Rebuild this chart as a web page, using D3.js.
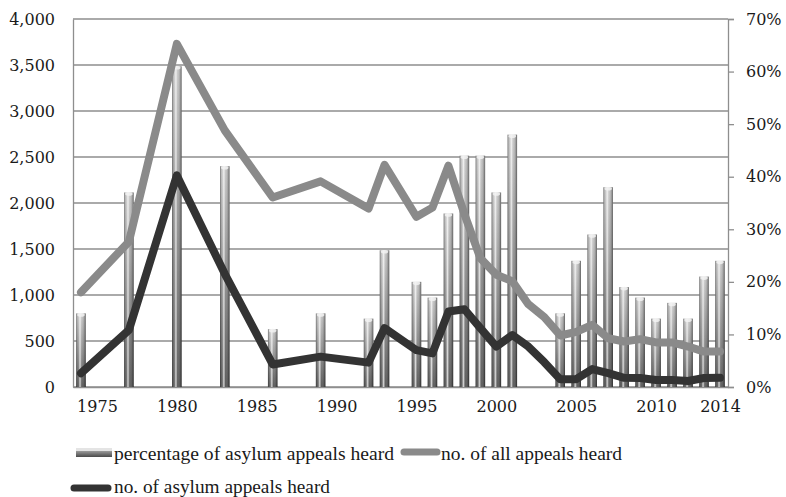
<!DOCTYPE html>
<html>
<head>
<meta charset="utf-8">
<script src="https://cdn.jsdelivr.net/npm/d3@7"></script>
<style>
  html, body { margin: 0; padding: 0; background: #fff; }
  svg { display: block; }
</style>
</head>
<body>
<svg id="chart" width="786" height="497"></svg>
<script>
// ---- data ----
const years = [1974,1977,1980,1983,1986,1989,1992,1993,1995,1996,1997,1998,1999,2000,2001,2002,2003,2004,2005,2006,2007,2008,2009,2010,2011,2012,2013,2014];
const pctAsylumHeard = [14,37,61,42,11,14,13,26,20,17,33,44,44,37,48,null,null,14,24,29,38,19,17,13,16,13,21,24];
const allAppealsHeard = [1030,1580,3730,2790,2060,2235,1940,2415,1850,1950,2405,1880,1400,1220,1150,900,760,560,600,675,530,495,520,485,485,440,385,385];
const asylumAppealsHeard = [150,620,2300,1230,245,330,265,640,400,365,820,845,640,440,565,440,270,83,85,195,150,100,98,76,76,65,98,100];
const leftTicks = [0,500,1000,1500,2000,2500,3000,3500,4000];
const rightTicks = [0,10,20,30,40,50,60,70];
const xTickYears = [1975,1980,1985,1990,1995,2000,2005,2010,2014];
const legendLabels = ["percentage of asylum appeals heard","no. of all appeals heard","no. of asylum appeals heard"];

// ---- layout ----
const svg = d3.select("#chart");
const L = 73, R = 728, T = 19, B = 387;
const x = d3.scaleLinear().domain([1973.5, 2014.5]).range([L, R]);
const yL = d3.scaleLinear().domain([0, 4000]).range([B, T]);
const yR = d3.scaleLinear().domain([0, 70]).range([B, T]);
const gridColor = "#8e8e8e";
const font = "'DejaVu Serif', serif";

// gradients
const defs = svg.append("defs");
const vg = defs.append("linearGradient").attr("id","barV").attr("x1",0).attr("y1",0).attr("x2",0).attr("y2",1);
vg.append("stop").attr("offset","0%").attr("stop-color","#c4c4c4");
vg.append("stop").attr("offset","100%").attr("stop-color","#4a4a4a");
const hg = defs.append("linearGradient").attr("id","barH").attr("x1",0).attr("y1",0).attr("x2",1).attr("y2",0);
hg.append("stop").attr("offset","0%").attr("stop-color","#000").attr("stop-opacity",0.45);
hg.append("stop").attr("offset","22%").attr("stop-color","#fff").attr("stop-opacity",0.1);
hg.append("stop").attr("offset","40%").attr("stop-color","#fff").attr("stop-opacity",0.75);
hg.append("stop").attr("offset","58%").attr("stop-color","#fff").attr("stop-opacity",0.1);
hg.append("stop").attr("offset","100%").attr("stop-color","#000").attr("stop-opacity",0.5);

// gridlines
svg.append("g").selectAll("line").data(leftTicks).join("line")
  .attr("x1", L).attr("x2", R)
  .attr("y1", d => yL(d)).attr("y2", d => yL(d))
  .attr("stroke", gridColor).attr("stroke-width", 1.3);

// left axis
const gLeft = svg.append("g").attr("transform", `translate(${L},0)`)
  .call(d3.axisLeft(yL).tickValues(leftTicks).tickSize(0).tickPadding(18).tickFormat(d3.format(",")));
gLeft.select(".domain").attr("stroke", gridColor).attr("stroke-width", 1.3);
gLeft.selectAll("text").attr("font-family", font).attr("font-size", 16).attr("fill", "#1a1a1a");

// right axis
const gRight = svg.append("g").attr("transform", `translate(${R},0)`)
  .call(d3.axisRight(yR).tickValues(rightTicks).tickSize(6).tickPadding(12).tickFormat(d => d + "%"));
gRight.select(".domain").attr("stroke", gridColor).attr("stroke-width", 1.3);
gRight.selectAll(".tick line").attr("stroke", gridColor).attr("stroke-width", 1.3);
gRight.selectAll("text").attr("font-family", font).attr("font-size", 16).attr("fill", "#1a1a1a");

// bottom axis
const gBottom = svg.append("g").attr("transform", `translate(0,${B})`)
  .call(d3.axisBottom(x).tickValues(xTickYears).tickSize(0).tickPadding(14).tickFormat(d3.format("d")));
gBottom.select(".domain").attr("stroke", gridColor).attr("stroke-width", 1.3);
gBottom.selectAll("text").attr("font-family", font).attr("font-size", 16).attr("fill", "#1a1a1a");

// bars
const barData = years.map((yr, i) => ({yr, v: pctAsylumHeard[i]})).filter(d => d.v != null);
const bw = 9.5;
const bars = svg.append("g");
bars.selectAll("rect.bv").data(barData).join("rect").attr("class","bv")
  .attr("x", d => x(d.yr) - bw/2).attr("width", bw)
  .attr("y", d => yR(d.v)).attr("height", d => B - yR(d.v))
  .attr("fill", "url(#barV)");
bars.selectAll("rect.bh").data(barData).join("rect").attr("class","bh")
  .attr("x", d => x(d.yr) - bw/2).attr("width", bw)
  .attr("y", d => yR(d.v)).attr("height", d => B - yR(d.v))
  .attr("fill", "url(#barH)");
bars.selectAll("ellipse").data(barData).join("ellipse")
  .attr("cx", d => x(d.yr)).attr("cy", d => yR(d.v) + 1.5)
  .attr("rx", bw/2 - 1).attr("ry", 1.8)
  .attr("fill", "#f2f2f2").attr("opacity", 0.85);

// lines
const lineGen = d3.line().x((d, i) => x(years[i])).y(d => yL(d)).defined(d => d != null);
svg.append("path").datum(allAppealsHeard)
  .attr("d", lineGen).attr("fill","none").attr("stroke","#8a8a8a")
  .attr("stroke-width", 8).attr("stroke-linejoin","round").attr("stroke-linecap","round");
svg.append("path").datum(asylumAppealsHeard)
  .attr("d", lineGen).attr("fill","none").attr("stroke","#333333")
  .attr("stroke-width", 8).attr("stroke-linejoin","round").attr("stroke-linecap","round");

// legend
const lg = svg.append("g");
lg.append("rect").attr("x", 76).attr("y", 448).attr("width", 36).attr("height", 9).attr("fill","url(#barV)");
lg.append("rect").attr("x", 76).attr("y", 448).attr("width", 36).attr("height", 3).attr("fill","#e4e4e4");
lg.append("text").attr("x", 114).attr("y", 460).text(legendLabels[0])
  .attr("textLength", 280).attr("lengthAdjust","spacingAndGlyphs");
lg.append("line").attr("x1", 404).attr("x2", 437).attr("y1", 452).attr("y2", 452)
  .attr("stroke","#8a8a8a").attr("stroke-width",7).attr("stroke-linecap","round");
lg.append("text").attr("x", 441).attr("y", 460).text(legendLabels[1])
  .attr("textLength", 181).attr("lengthAdjust","spacingAndGlyphs");
lg.append("line").attr("x1", 74).attr("x2", 108).attr("y1", 488).attr("y2", 488)
  .attr("stroke","#333333").attr("stroke-width",7).attr("stroke-linecap","round");
lg.append("text").attr("x", 114).attr("y", 493).text(legendLabels[2])
  .attr("textLength", 216).attr("lengthAdjust","spacingAndGlyphs");
lg.selectAll("text").attr("font-family", "'Liberation Serif', serif").attr("font-size", 19).attr("fill","#1a1a1a");
</script>
</body>
</html>
